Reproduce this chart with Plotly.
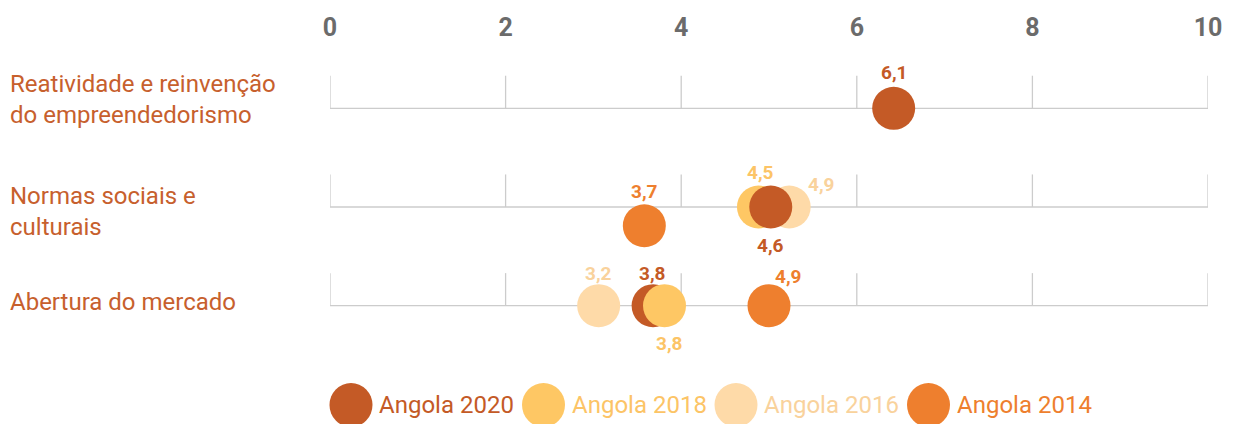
import plotly.graph_objects as go

# ---------------- data ----------------
categories = ["Reatividade e reinvenção<br>do empreendedorismo",
              "Normas sociais e<br>culturais",
              "Abertura do mercado"]
series = ["Angola 2020", "Angola 2018", "Angola 2016", "Angola 2014"]
tick_values = [0, 2, 4, 6, 8, 10]

# printed scores (labels)
score_2020 = [6.1, 4.6, 3.8]
score_2018 = [None, 4.5, 3.8]
score_2016 = [None, 4.9, 3.2]
score_2014 = [None, 3.7, 4.9]

# positions of the circles as read against the 0-10 scale
pos_2020 = [6.42, 5.02, 3.68]
pos_2018 = [None, 4.88, 3.81]
pos_2016 = [None, 5.23, 3.06]
pos_2014 = [None, 3.58, 5.00]

scores = {"Angola 2020": score_2020, "Angola 2018": score_2018,
          "Angola 2016": score_2016, "Angola 2014": score_2014}
positions = {"Angola 2020": pos_2020, "Angola 2018": pos_2018,
             "Angola 2016": pos_2016, "Angola 2014": pos_2014}

# ---------------- styles ----------------
marker_colors = {"Angola 2020": "#c45a26", "Angola 2018": "#fec764",
                 "Angola 2016": "#fedaa8", "Angola 2014": "#ee7f2e"}
label_colors = {"Angola 2020": "#c45a26", "Angola 2018": "#fcc466",
                "Angola 2016": "#f9d29c", "Angola 2014": "#ee7f2e"}
cat_color = "#c7602d"
grid_color = "#cccccc"

# draw order (back to front) per row
draw_order = [["Angola 2020"],
              ["Angola 2018", "Angola 2016", "Angola 2014", "Angola 2020"],
              ["Angola 2016", "Angola 2020", "Angola 2018", "Angola 2014"]]
# vertical offset of a circle from its row line (data units, down positive)
circle_dy = {(1, "Angola 2014"): 0.19}
# label offsets in pixels (dx, dy up positive)
label_off = {(0, "Angola 2020"): (0, 36),
             (1, "Angola 2018"): (2, 35), (1, "Angola 2016"): (32, 23),
             (1, "Angola 2020"): (0, -38), (1, "Angola 2014"): (0, 34),
             (2, "Angola 2016"): (0, 32), (2, "Angola 2020"): (-1, 32),
             (2, "Angola 2014"): (19, 29), (2, "Angola 2018"): (5, -38)}
cat_yshift = [9, -4, 4]

OFF = 8  # page body margin
W, H = 1237 - OFF, 424 - OFF
ML, MR, MT, MB = 330 - OFF, 29, 50 - OFF, 0
row_px0, row_step = 108.3 - OFF, 98.7
y_top = -(row_px0 - MT) / row_step
y_bot = (H - MB - row_px0) / row_step

fig = go.Figure()
shapes = []
annotations = []

for i, cat in enumerate(categories):
    shapes.append(dict(type="line", xref="x", yref="y", x0=tick_values[0], x1=tick_values[-1],
                       y0=i, y1=i, line=dict(color=grid_color, width=1.3), layer="below"))
    for t in tick_values:
        shapes.append(dict(type="line", xref="x", yref="y", x0=t, x1=t, y0=i, y1=i - 0.33,
                           line=dict(color=grid_color, width=1.3), layer="below"))
    annotations.append(dict(xref="paper", yref="y", x=0, y=i, xshift=-ML,
                            xanchor="left", yanchor="middle", align="left",
                            yshift=cat_yshift[i], text=cat, showarrow=False,
                            font=dict(family="Roboto", size=24, color=cat_color)))
    xs, ys, cols = [], [], []
    for s in draw_order[i]:
        v = positions[s][i]
        if v is None:
            continue
        y = i + circle_dy.get((i, s), 0)
        xs.append(v)
        ys.append(y)
        cols.append(marker_colors[s])
        dx, dy = label_off[(i, s)]
        annotations.append(dict(xref="x", yref="y", x=v, y=y, xshift=dx, yshift=dy,
                                text=f"{scores[s][i]:.1f}".replace(".", ","),
                                showarrow=False, xanchor="center", yanchor="middle",
                                font=dict(family="Roboto", size=19, color=label_colors[s],
                                          weight="bold")))
    fig.add_trace(go.Scatter(x=xs, y=ys, mode="markers", showlegend=False,
                             hoverinfo="skip",
                             marker=dict(size=43, color=cols, opacity=1, line=dict(width=0))))

# custom legend
plot_w = W - ML - MR
plot_h = H - MT - MB
leg_x0, leg_step, leg_y = 351 - OFF, 192.5, 405 - OFF
for k, s in enumerate(series):
    cx = leg_x0 + k * leg_step
    px = (cx - ML) / plot_w
    py = (H - leg_y) / plot_h
    shapes.append(dict(type="circle", xref="paper", yref="paper", xsizemode="pixel",
                       ysizemode="pixel", xanchor=px, yanchor=py, x0=-21.5, x1=21.5,
                       y0=-22, y1=22, fillcolor=marker_colors[s], line=dict(width=0)))
    annotations.append(dict(xref="paper", yref="paper", x=(cx + 26 - ML) / plot_w, y=py,
                            xanchor="left", yanchor="middle", text=s, showarrow=False,
                            font=dict(family="Roboto", size=24, color=label_colors[s])))

fig.update_layout(
    width=W, height=H,
    margin=dict(l=ML, r=MR, t=MT, b=MB),
    paper_bgcolor="white", plot_bgcolor="white",
    shapes=shapes, annotations=annotations,
    xaxis=dict(range=[tick_values[0], tick_values[-1]], side="top", tickvals=tick_values,
               ticktext=[str(t) for t in tick_values], showgrid=False, zeroline=False,
               showline=False, ticks="", ticklabelstandoff=8,
               tickfont=dict(family="Roboto", size=25, color="#6b6b6b", weight="bold"),
               fixedrange=True),
    yaxis=dict(range=[y_bot, y_top], visible=False, fixedrange=True),
)

fig.write_html("out.html")
